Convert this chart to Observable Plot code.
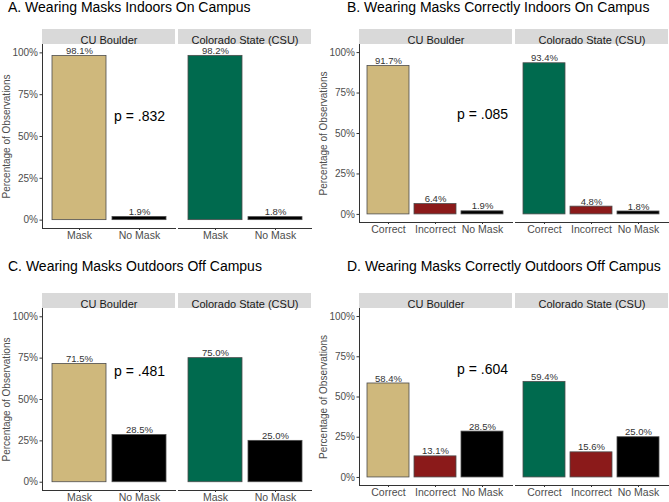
<!DOCTYPE html>
<html>
<head>
<meta charset="utf-8">
<script src="https://cdn.jsdelivr.net/npm/d3@7"></script>
<script src="https://cdn.jsdelivr.net/npm/@observablehq/plot@0.6"></script>
<style>
  body { margin: 0; background: white; }
  #chart { position: relative; width: 669px; height: 502px; overflow: hidden; font-family: "Liberation Sans", Arial, sans-serif; }
  .panel { position: absolute; }
  .title { position: absolute; font-size: 14px; line-height: 1; color: #000; white-space: nowrap; }
</style>
</head>
<body>
<div id="chart"></div>
<script>
const schools = ["CU Boulder", "Colorado State (CSU)"]
const maskCats = ["Mask", "No Mask"]
const correctCats = ["Correct", "Incorrect", "No Mask"]

const indoorCU = [98.1, 1.9]
const indoorCSU = [98.2, 1.8]
const indoorCorrectCU = [91.7, 6.4, 1.9]
const indoorCorrectCSU = [93.4, 4.8, 1.8]
const outdoorCU = [71.5, 28.5]
const outdoorCSU = [75.0, 25.0]
const outdoorCorrectCU = [58.4, 13.1, 28.5]
const outdoorCorrectCSU = [59.4, 15.6, 25.0]

const pValues = [".832", ".085", ".481", ".604"]
const titles = [
  "A. Wearing Masks Indoors On Campus",
  "B. Wearing Masks Correctly Indoors On Campus",
  "C. Wearing Masks Outdoors Off Campus",
  "D. Wearing Masks Correctly Outdoors Off Campus"
]
const yTicks = [0, 25, 50, 75, 100]

function rowsFor(cats, cu, csu) {
  return cats.flatMap((c, i) => [
    {school: schools[0], cat: c, value: cu[i]},
    {school: schools[1], cat: c, value: csu[i]}
  ])
}

const fillOf = d =>
  d.cat === "No Mask" ? "#000000" :
  d.cat === "Incorrect" ? "#8b1a1a" :
  d.school === schools[0] ? "#cfb87c" : "#006a4e"

// layout of the four panels
const panels = [
  {cats: maskCats, rows: rowsFor(maskCats, indoorCU, indoorCSU), left: 0, top: 20, width: 313, marginLeft: 41, plotH: 184, titleLeft: 8, titleTop: 0, pY: 62},
  {cats: correctCats, rows: rowsFor(correctCats, indoorCorrectCU, indoorCorrectCSU), left: 315, top: 20, width: 354, marginLeft: 43, plotH: 178, titleLeft: 347, titleTop: 0, pY: 62},
  {cats: maskCats, rows: rowsFor(maskCats, outdoorCU, outdoorCSU), left: 0, top: 284, width: 313, marginLeft: 41, plotH: 182, titleLeft: 8, titleTop: 259, pY: 67},
  {cats: correctCats, rows: rowsFor(correctCats, outdoorCorrectCU, outdoorCorrectCSU), left: 315, top: 284, width: 354, marginLeft: 43, plotH: 177, titleLeft: 347, titleTop: 259, pY: 67}
]

const root = d3.select('#chart')

panels.forEach((p, k) => {
  root.append('div').attr('class', 'title')
    .style('left', p.titleLeft + 'px').style('top', p.titleTop + 'px')
    .text(titles[k])

  const chart = Plot.plot({
    width: p.width,
    height: 24 + p.plotH + 22,
    marginTop: 24,
    marginBottom: 22,
    marginLeft: p.marginLeft,
    marginRight: 1,
    style: {fontFamily: '"Liberation Sans", Arial, sans-serif', fontSize: '10px', color: '#4d4d4d', background: 'transparent', overflow: 'visible'},
    fx: {domain: schools, padding: 0.02, axis: null},
    x: {domain: p.cats, paddingInner: 0.1, paddingOuter: 0.15},
    y: {domain: [-5, 105]},
    marks: [
      // facet strips
      Plot.rect([0], {y1: 105, y2: 105, insetTop: -15, fill: '#d9d9d9'}),
      Plot.text(schools, {fx: d => d, text: d => d, frameAnchor: 'top', dy: -8, fontSize: 11, fill: '#1a1a1a'}),
      Plot.barY(p.rows, {fx: 'school', x: 'cat', y: 'value', fill: fillOf, stroke: '#4d4d4d', strokeWidth: 0.8}),
      Plot.text(p.rows, {fx: 'school', x: 'cat', y: 'value', text: d => d3.format('.1f')(d.value) + '%', dy: -5, fontSize: 9.5, fill: '#333'}),
      Plot.text([{school: schools[0], cat: 'No Mask', y: p.pY, label: 'p = ' + pValues[k]}],
        {fx: 'school', x: 'cat', y: 'y', text: 'label', fontSize: 14, fill: '#000'}),
      Plot.frame({anchor: 'bottom', stroke: '#333'}),
      Plot.frame({anchor: 'left', facetAnchor: 'left', stroke: '#333'}),
      Plot.axisY({ticks: yTicks, tickFormat: d => d + '%', tickSize: 2.5, tickPadding: 2, stroke: '#333',
        label: 'Percentage of Observations', labelAnchor: 'center', labelArrow: 'none', labelOffset: 40}),
      Plot.axisX({tickSize: 2, tickPadding: 1, fontSize: 10.5, stroke: '#333', label: null})
    ]
  })

  root.append('div').attr('class', 'panel')
    .style('left', p.left + 'px').style('top', p.top + 'px')
    .append(() => chart)
})
</script>
</body>
</html>
